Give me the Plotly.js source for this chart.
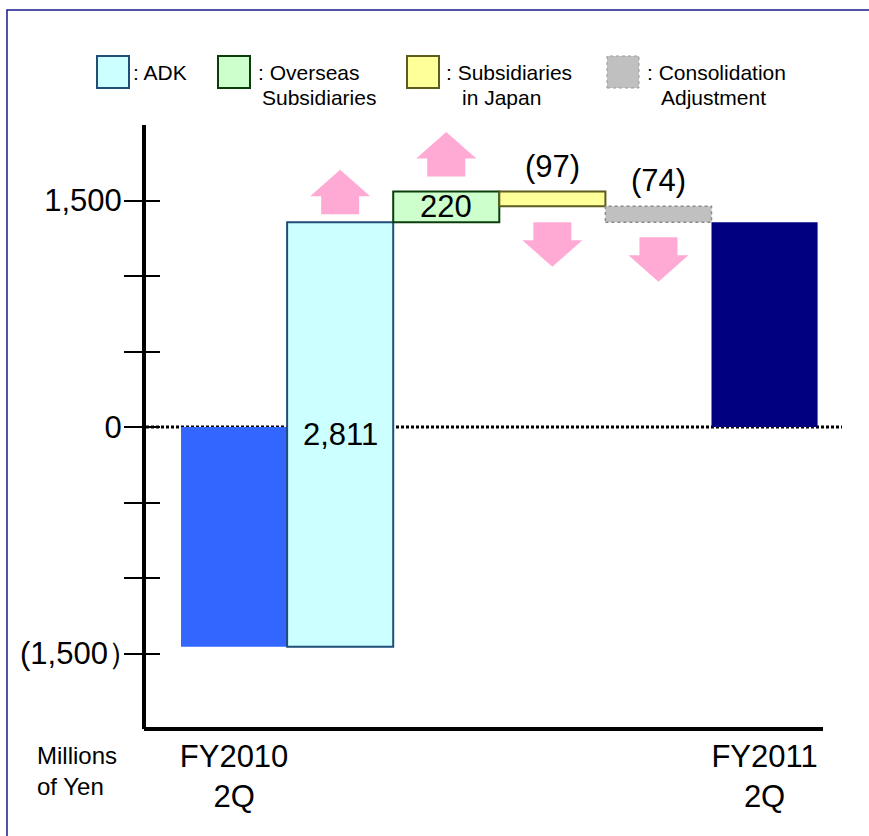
<!DOCTYPE html>
<html><head><meta charset="utf-8">
<script src="https://cdn.plot.ly/plotly-3.0.1.min.js"></script>
<style>body{margin:0;background:#fff}#chart{width:869px;height:836px}</style>
</head><body><div id="chart"></div>
<script>
// ---- data ----
const categories = ['FY2010 2Q', 'ADK', 'Overseas Subsidiaries', 'Subsidiaries in Japan', 'Consolidation Adjustment', 'FY2011 2Q'];
const barBottoms = [-1455, -1455, 1356, 1462, 1356, 0];
const barTops = [0, 1356, 1559, 1559, 1462, 1356];
const changeValues = [null, 2811, 220, -97, -74, null];
const changeLabels = ['', '2,811', '220', '(97)', '(74)', ''];
const xTickLabels = ['FY2010<br>2Q', 'FY2011<br>2Q'];
const yTickValues = [-1500, -1000, -500, 0, 500, 1000, 1500];
const yTickLabels = ['(1,500）', '', '', '0', '', '', '1,500'];
const legendLine1 = [': ADK', ': Overseas', ': Subsidiaries', ': Consolidation'];
const legendLine2 = ['', 'Subsidiaries', 'in Japan', 'Adjustment'];
const unitLabel = 'Millions<br>of Yen';

// ---- styles ----
const FONT = 'Liberation Sans, Arial, sans-serif';
const BIG = 31;
const barFill = ['#3366FF', '#CCFFFF', '#CCFFCC', '#FFFF99', '#C0C0C0', '#000080'];
const barEdge = ['#3366FF', '#1F4E79', '#0B3D0B', '#5C5C1F', '#999999', '#000080'];
const barEdgeW = [0, 2, 2, 2, 0, 0];
const ARROW = '#FFAAD4';

const W = 869, H = 836;
const M = {l: 146, r: 27, t: 125, b: 107};
const XR = [-0.83, 5.73], YR = [-2000, 2000];
const plotW = W - M.l - M.r, plotH = H - M.t - M.b;
const pxX = plotW / (XR[1] - XR[0]);   // px per x unit
const pxY = plotH / (YR[1] - YR[0]);   // px per y unit
const paperX = px => (px - M.l) / plotW;
const paperY = py => (H - M.b - py) / plotH;

const xs = categories.map((_, i) => i);
const heights = barTops.map((t, i) => t - barBottoms[i]);

const traces = [{
  type: 'bar', x: xs, y: heights, base: barBottoms, width: 1,
  text: categories, hoverinfo: 'text',
  marker: {color: barFill, line: {color: barEdge, width: barEdgeW}},
  textposition: 'none'
}, {
  type: 'scatter', x: [0], y: [0], yaxis: 'y2', mode: 'markers',
  marker: {opacity: 0}, hoverinfo: 'skip', showlegend: false
}];

const shapes = [];
const annotations = [];

// outer frame
shapes.push({type: 'rect', xref: 'paper', yref: 'paper',
  x0: paperX(7), x1: paperX(880), y0: paperY(850), y1: paperY(10),
  line: {color: '#1a1a8a', width: 1.5}, layer: 'below'});
// zero dotted line
shapes.push({type: 'line', xref: 'paper', yref: 'y', x0: 0, x1: paperX(842), y0: 0, y1: 0,
  line: {color: '#000', width: 3, dash: '3px,2px'}, layer: 'below'});
// x axis line
shapes.push({type: 'line', xref: 'paper', yref: 'paper', x0: paperX(144), x1: paperX(823), y0: 0, y1: 0,
  line: {color: '#000', width: 4}});
// dotted outline of consolidation adjustment bar
shapes.push({type: 'rect', xref: 'x', yref: 'y', x0: 4 - 0.5, x1: 4 + 0.5,
  y0: barBottoms[4], y1: barTops[4], line: {color: '#8a8a8a', width: 1.5, dash: 'dot'}});

// arrows and change labels
const arrowGapPx = {1: 8, 2: 15, 3: 16, 4: 15};
const headW = 60 / pxX, shaftW = 38 / pxX, headH = 26.5 / pxY, shaftH = 18 / pxY;
changeValues.forEach((v, i) => {
  if (v === null) return;
  const up = v > 0;
  let p;
  if (up) {
    const yb = barTops[i] + arrowGapPx[i] / pxY;
    const ys = yb + shaftH;
    p = `M${i - shaftW / 2},${yb} L${i + shaftW / 2},${yb} L${i + shaftW / 2},${ys} L${i + headW / 2},${ys} L${i},${ys + headH} L${i - headW / 2},${ys} L${i - shaftW / 2},${ys} Z`;
  } else {
    const yt = barBottoms[i] - arrowGapPx[i] / pxY;
    const ys = yt - shaftH;
    p = `M${i - shaftW / 2},${yt} L${i + shaftW / 2},${yt} L${i + shaftW / 2},${ys} L${i + headW / 2},${ys} L${i},${ys - headH} L${i - headW / 2},${ys} L${i - shaftW / 2},${ys} Z`;
  }
  shapes.push({type: 'path', xref: 'x', yref: 'y', path: p, fillcolor: ARROW, line: {width: 0}});
  if (up) {
    annotations.push({x: i, y: (barTops[i] + barBottoms[i]) / 2, xref: 'x', yref: 'y', text: changeLabels[i],
      showarrow: false, yanchor: 'middle', font: {family: FONT, size: BIG, color: '#000'}});
  } else {
    annotations.push({x: i, y: barTops[i], xref: 'x', yref: 'y', text: changeLabels[i],
      showarrow: false, yanchor: 'bottom', yshift: 6, font: {family: FONT, size: BIG, color: '#000'}});
  }
});

// y tick labels: the negative one is placed as an annotation (its full-width bracket carries trailing space)
const shownTickText = yTickLabels.map(t => (t.indexOf('（') >= 0 || t.indexOf('）') >= 0) ? '' : t);
yTickLabels.forEach((t, k) => {
  if (shownTickText[k] === '' && t !== '') {
    annotations.push({xref: 'paper', yref: 'y', x: paperX(141), y: yTickValues[k], xanchor: 'right', yanchor: 'middle',
      text: t, showarrow: false, font: {family: FONT, size: BIG, color: '#000'}});
  }
});

// legend (manual)
const legBoxX = [97, 218, 407, 607];
const legText1X = [131, 256, 444, 645];
const legText2X = [0, 260, 460, 659];
legendLine1.forEach((t, k) => {
  const ci = k + 1;
  shapes.push({type: 'rect', xref: 'paper', yref: 'paper',
    x0: paperX(legBoxX[k]), x1: paperX(legBoxX[k] + 32), y0: paperY(88), y1: paperY(56),
    fillcolor: barFill[ci], line: {color: barEdge[ci], width: ci === 4 ? 1 : 2, dash: ci === 4 ? 'dot' : 'solid'}});
  annotations.push({xref: 'paper', yref: 'paper', x: paperX(legText1X[k]), y: paperY(72), xanchor: 'left', yanchor: 'middle',
    text: t, showarrow: false, font: {family: FONT, size: 21, color: '#000'}});
  if (legendLine2[k]) {
    annotations.push({xref: 'paper', yref: 'paper', x: paperX(legText2X[k]), y: paperY(98), xanchor: 'left', yanchor: 'middle',
      text: legendLine2[k], showarrow: false, font: {family: FONT, size: 21, color: '#000'}});
  }
});

// unit label
annotations.push({xref: 'paper', yref: 'paper', x: paperX(35), y: paperY(740), xanchor: 'left', yanchor: 'top',
  text: unitLabel, align: 'left', showarrow: false, font: {family: FONT, size: 24, color: '#000'}});

const layout = {
  width: W, height: H, margin: M, paper_bgcolor: '#fff', plot_bgcolor: '#fff',
  showlegend: false, barmode: 'overlay', bargap: 0,
  font: {family: FONT, color: '#000'},
  xaxis: {range: XR, tickvals: [0, 5], ticktext: xTickLabels, ticks: '', showline: false, showgrid: false,
    zeroline: false, tickfont: {size: BIG, color: '#000'}, ticklabelstandoff: 6},
  yaxis: {range: YR, tickvals: yTickValues, ticktext: shownTickText, ticks: 'outside', ticklen: 18, tickwidth: 2,
    tickcolor: '#000', showline: true, linewidth: 4, linecolor: '#000', showgrid: false, zeroline: false,
    tickfont: {size: BIG, color: '#000'}, ticklabelstandoff: -4},
  yaxis2: {range: YR, overlaying: 'y', side: 'left', tickvals: yTickValues, ticks: 'inside', ticklen: 14, tickwidth: 2,
    tickcolor: '#000', showticklabels: false, showline: false, showgrid: false, zeroline: false},
  shapes, annotations
};
Plotly.newPlot('chart', traces, layout, {displayModeBar: false, staticPlot: true});
</script></body></html>
